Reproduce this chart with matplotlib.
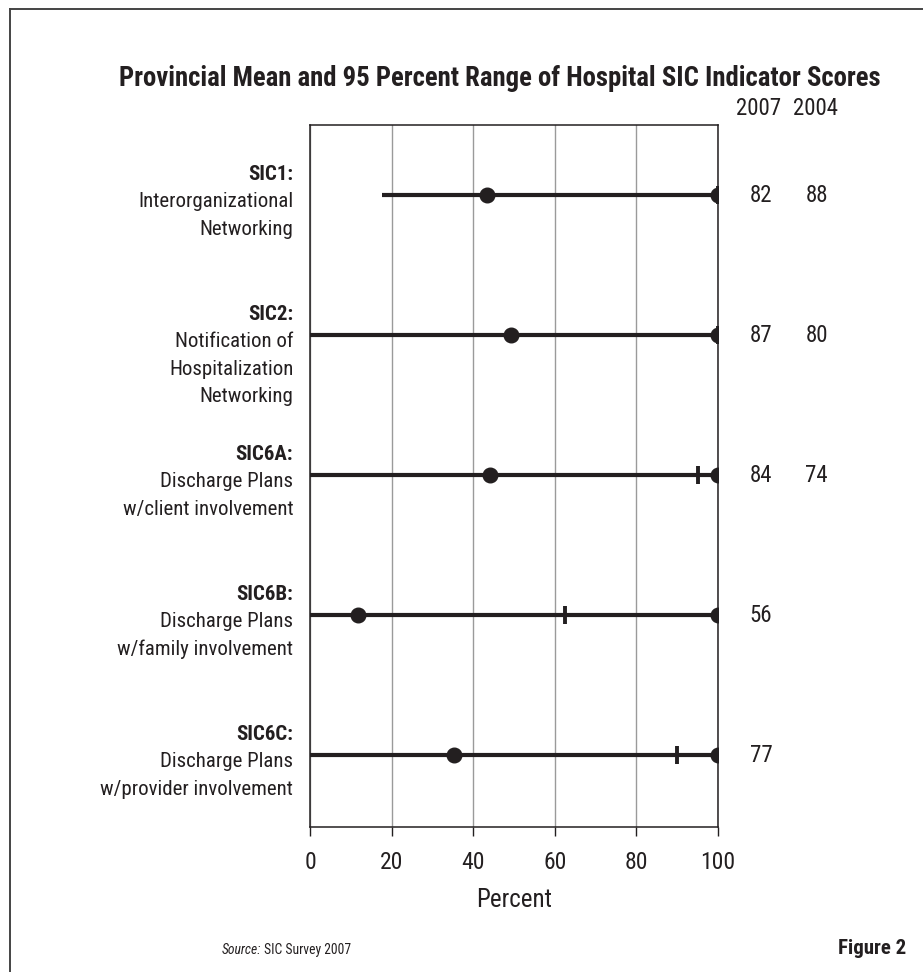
import matplotlib
matplotlib.use("Agg")
import matplotlib.pyplot as plt
from matplotlib.lines import Line2D

plt.rcParams['font.family'] = ['Roboto Condensed', 'DejaVu Sans']

# ---- data ----
codes = ["SIC1:", "SIC2:", "SIC6A:", "SIC6B:", "SIC6C:"]
descriptions = [
    ["Interorganizational", "Networking"],
    ["Notification of", "Hospitalization", "Networking"],
    ["Discharge Plans", "w/client involvement"],
    ["Discharge Plans", "w/family involvement"],
    ["Discharge Plans", "w/provider involvement"],
]
range_low = [17.6, 0, 0, 0, 0]
range_high = [100, 100, 100, 100, 100]
dot_low = [43.3, 49.3, 44.0, 11.7, 35.3]
dot_high = [100, 100, 100, 100, 100]
mean_tick = [100, 100, 95.2, 62.5, 90.0]
score_2007 = ["82", "87", "84", "56", "77"]
score_2004 = ["88", "80", "74", "", ""]
year_headers = ["2007", "2004"]
x_ticks = [0, 20, 40, 60, 80, 100]

INK = "#231f20"
W, H = 923, 972
fig = plt.figure(figsize=(W / 100, H / 100), dpi=100)
ax = fig.add_axes([310 / W, 145 / H, 408 / W, 702 / H])

rows = list(range(len(codes)))
for i in rows:
    ax.plot([range_low[i], range_high[i]], [i, i], color=INK, lw=3.0,
            solid_capstyle='butt', zorder=3)
    ax.plot([mean_tick[i]], [i], marker='|', ms=13, mew=2.8, color=INK, zorder=4)
    ax.plot([dot_low[i], dot_high[i]], [i, i], ls='none', marker='o', ms=10.5,
            color=INK, zorder=5)

ax.set_xlim(0, 100)
ax.set_ylim(4.514, -0.5)
ax.set_xticks(x_ticks)
ax.set_xticklabels([str(t) for t in x_ticks], fontsize=17, color=INK)
ax.set_yticks([])
ax.tick_params(axis='x', direction='out', length=6.5, width=1, color=INK, pad=11)
ax.grid(axis='x', color='#9a9a9a', lw=1)
ax.set_axisbelow(True)
for s in ax.spines.values():
    s.set_color(INK)
    s.set_linewidth(1.1)
ax.set_xlabel("Percent", fontsize=18, color=INK, labelpad=10)

# category labels
label_dy = [10.8, -8.8, -28.5, -48.2]
for i in rows:
    lines = [codes[i]] + descriptions[i]
    for k, line in enumerate(lines):
        ax.annotate(line, xy=(0, i), xycoords=('axes fraction', 'data'),
                    xytext=(-12, label_dy[k]), textcoords='offset points',
                    ha='right', va='baseline', fontsize=15, color=INK,
                    fontweight='bold' if k == 0 else 'normal')
    ax.annotate(score_2007[i], xy=(1, i), xycoords=('axes fraction', 'data'),
                xytext=(31, 0), textcoords='offset points',
                ha='center', va='center', fontsize=16.5, color=INK)
    if score_2004[i]:
        ax.annotate(score_2004[i], xy=(1, i), xycoords=('axes fraction', 'data'),
                    xytext=(71, 0), textcoords='offset points',
                    ha='center', va='center', fontsize=16.5, color=INK)

fig.text(759 / W, 1 - 108 / H, year_headers[0], ha='center', va='center', fontsize=16.5, color=INK)
fig.text(816 / W, 1 - 108 / H, year_headers[1], ha='center', va='center', fontsize=16.5, color=INK)

fig.text(500 / W, 1 - 78 / H,
         "Provincial Mean and 95 Percent Range of Hospital SIC Indicator Scores",
         ha='center', va='center', fontsize=19.3, fontweight='bold', color=INK)

src = fig.text(222 / W, 1 - 950 / H, "Source:", ha='left', va='center', fontsize=9.8,
               style='italic', color=INK)
ax.annotate("SIC Survey 2007", xy=(1, 0.5), xycoords=src, xytext=(2, 0),
            textcoords='offset points', ha='left', va='center', fontsize=9.8,
            color=INK, annotation_clip=False)
fig.text(906 / W, 1 - 948 / H, "Figure 2", ha='right', va='center', fontsize=15,
         fontweight='bold', color=INK)

# page frame (top and left)
fig.add_artist(Line2D([9.5 / W, 1.0], [1 - 9.5 / H, 1 - 9.5 / H],
                      transform=fig.transFigure, color='#444444', lw=1.4))
fig.add_artist(Line2D([9.5 / W, 9.5 / W], [0.0, 1 - 9.5 / H],
                      transform=fig.transFigure, color='#444444', lw=1.4))

fig.savefig("out.png", dpi=100)
